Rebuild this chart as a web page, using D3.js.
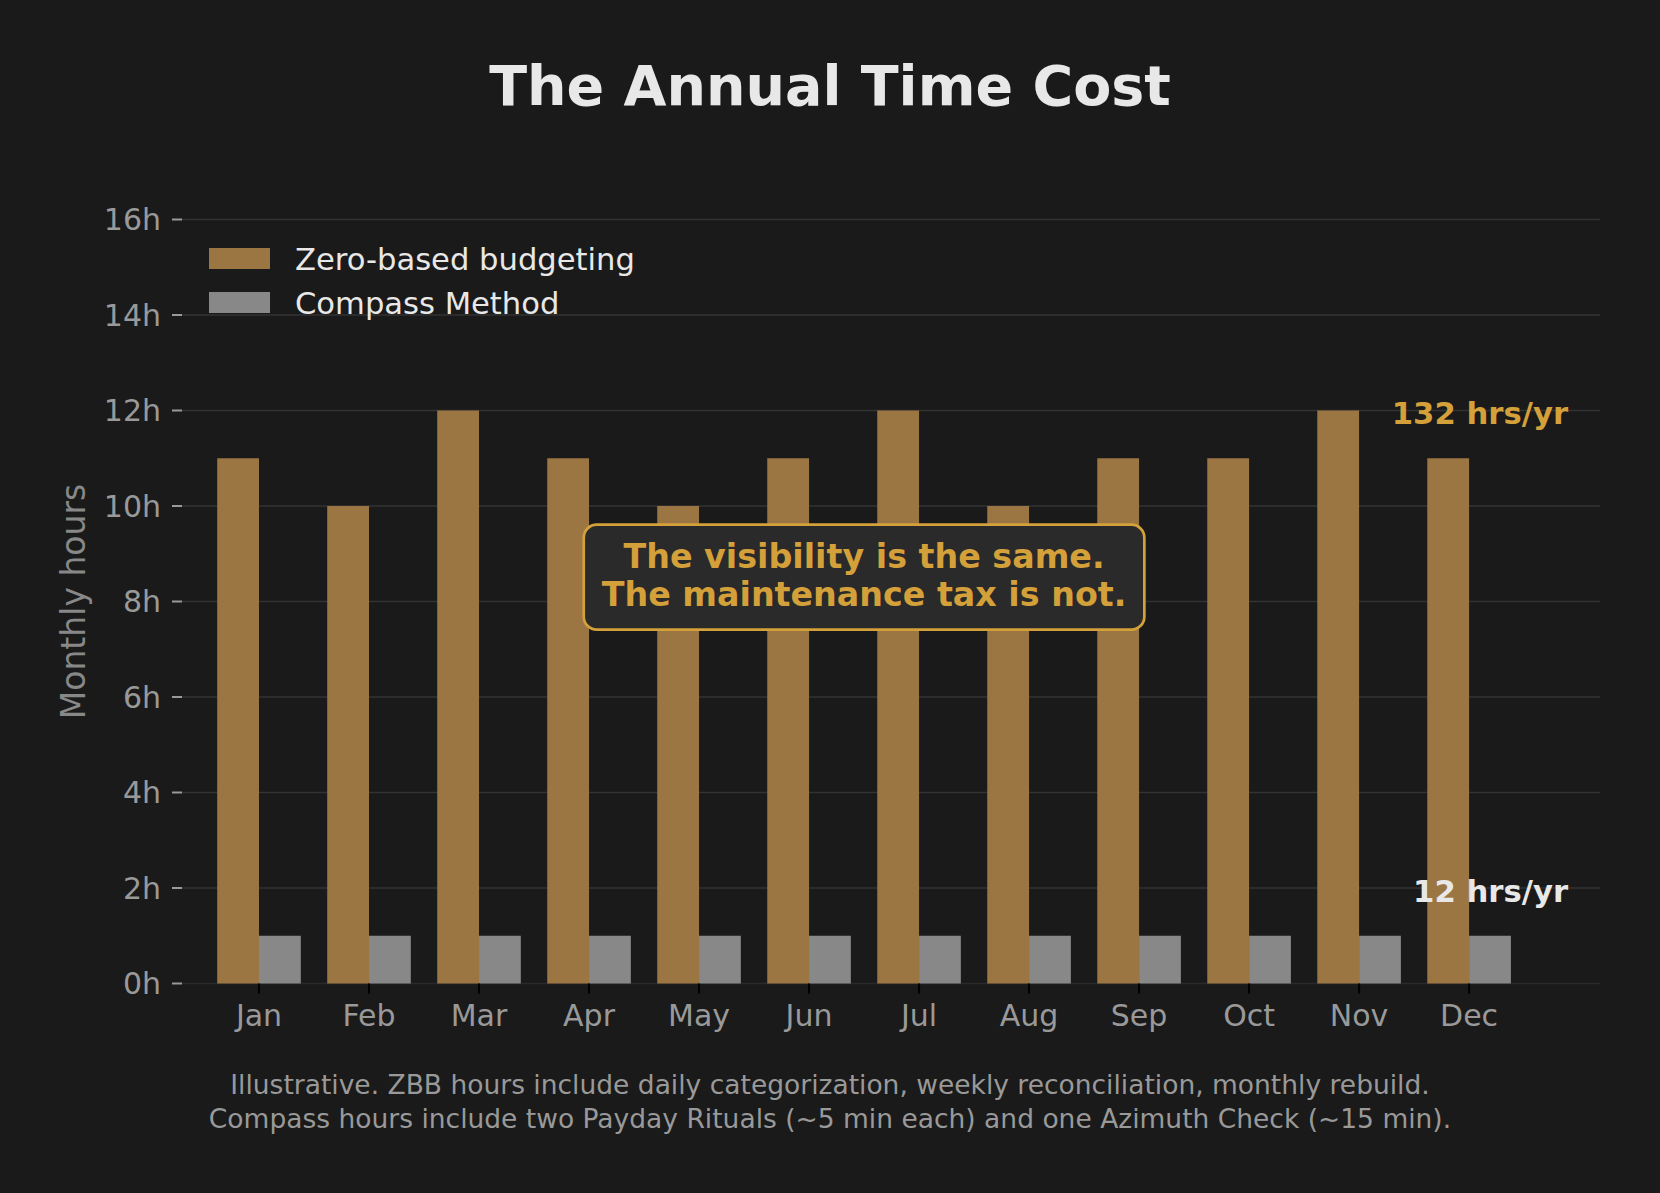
<!DOCTYPE html>
<html lang="en">
<head>
  <meta charset="UTF-8">
  <title>The Annual Time Cost</title>
  <style>
    body { margin: 0; background: #1a1a1a; overflow: hidden; }
    svg { display: block; font-family: "DejaVu Sans", sans-serif; }
    .grid line { stroke: #333; stroke-width: 1.5px; }
    .tick-label { fill: #999; font-size: 30px; }
  </style>
</head>
<body>
  <script src="https://cdn.jsdelivr.net/npm/d3@7"></script>
  <script>
    const months = ["Jan", "Feb", "Mar", "Apr", "May", "Jun", "Jul", "Aug", "Sep", "Oct", "Nov", "Dec"];
    const zbbHours = [11, 10, 12, 11, 10, 11, 12, 10, 11, 11, 12, 11];
    const compassHours = [1, 1, 1, 1, 1, 1, 1, 1, 1, 1, 1, 1];
    const yTicks = [0, 2, 4, 6, 8, 10, 12, 14, 16];
    const seriesNames = ["Zero-based budgeting", "Compass Method"];
    const footerLines = [
      "Illustrative. ZBB hours include daily categorization, weekly reconciliation, monthly rebuild.",
      "Compass hours include two Payday Rituals (~5 min each) and one Azimuth Check (~15 min)."
    ];
    const calloutLines = ["The visibility is the same.", "The maintenance tax is not."];

    const width = 1660, height = 1193;
    const gold = "#d4a03a", zbbColor = "#9c7642", compassColor = "#888888";
    const barW = 0.38;

    const svg = d3.select("body").append("svg").attr("width", width).attr("height", height);
    svg.append("rect").attr("width", width).attr("height", height).attr("fill", "#1a1a1a");

    // axes box matches matplotlib xlim(-0.7, 12.19), ylim(0, 16)
    const x = d3.scaleLinear().domain([-0.7, 12.19]).range([182, 1600]);
    const y = d3.scaleLinear().domain([0, 16]).range([983.5, 219.5]);

    // title
    svg.append("text").attr("x", 830).attr("y", 105).attr("text-anchor", "middle")
      .attr("font-size", "55.5px").attr("font-weight", "bold").attr("fill", "#e8e8e8")
      .text("The Annual Time Cost");

    // grid
    svg.append("g").attr("class", "grid").selectAll("line").data(yTicks).enter().append("line")
      .attr("x1", x.range()[0]).attr("x2", x.range()[1])
      .attr("y1", d => y(d)).attr("y2", d => y(d))
      .style("stroke", d => d === 0 ? "#2a2a2a" : null);

    // y ticks
    const yAxis = svg.append("g");
    yAxis.selectAll("line").data(yTicks).enter().append("line")
      .attr("x1", 172).attr("x2", 182).attr("y1", d => y(d)).attr("y2", d => y(d))
      .attr("stroke", "#999").attr("stroke-width", 2);
    yAxis.selectAll("text").data(yTicks).enter().append("text")
      .attr("class", "tick-label").attr("x", 161).attr("y", d => y(d)).attr("dy", "0.36em")
      .attr("text-anchor", "end").text(d => d + "h");

    svg.append("text").attr("transform", `translate(85, ${(y(0) + y(16)) / 2}) rotate(-90)`)
      .attr("text-anchor", "middle").attr("font-size", "33px").attr("fill", "#888")
      .text("Monthly hours");

    // bars
    svg.append("g").selectAll("rect").data(zbbHours).enter().append("rect")
      .attr("x", (d, i) => x(i - barW)).attr("width", x(barW) - x(0))
      .attr("y", d => y(d)).attr("height", d => y(0) - y(d)).attr("fill", zbbColor);
    svg.append("g").selectAll("rect").data(compassHours).enter().append("rect")
      .attr("x", (d, i) => x(i)).attr("width", x(barW) - x(0))
      .attr("y", d => y(d)).attr("height", d => y(0) - y(d)).attr("fill", compassColor);

    // x ticks
    const xAxis = svg.append("g");
    xAxis.selectAll("line").data(months).enter().append("line")
      .attr("x1", (d, i) => x(i)).attr("x2", (d, i) => x(i))
      .attr("y1", y(0)).attr("y2", y(0) + 10).attr("stroke", "#000").attr("stroke-width", 2);
    xAxis.selectAll("text").data(months).enter().append("text")
      .attr("class", "tick-label").attr("x", (d, i) => x(i)).attr("y", 1026)
      .attr("text-anchor", "middle").text(d => d);

    // legend
    const legend = svg.append("g").selectAll("g").data(seriesNames).enter().append("g")
      .attr("transform", (d, i) => `translate(209, ${248 + i * 44})`);
    legend.append("rect").attr("width", 61).attr("height", 21)
      .attr("fill", (d, i) => i === 0 ? zbbColor : compassColor);
    legend.append("text").attr("x", 86).attr("y", 10.5).attr("dy", "0.36em")
      .attr("font-size", "30.6px").attr("fill", "#e8e8e8").text(d => d);

    // totals
    const total = a => d3.sum(a);
    svg.append("text").attr("x", x(11.9)).attr("y", y(12)).attr("dy", "0.45em")
      .attr("text-anchor", "end").attr("font-size", "30.7px").attr("font-weight", "bold")
      .attr("fill", gold).text(`${total(zbbHours)} hrs/yr`);
    svg.append("text").attr("x", x(11.9)).attr("y", y(2)).attr("dy", "0.45em")
      .attr("text-anchor", "end").attr("font-size", "30.7px").attr("font-weight", "bold")
      .attr("fill", "#e8e8e8").text(`${total(compassHours)} hrs/yr`);

    // callout
    const cx = x(5.5), cy = y(8.5);
    const callout = svg.append("g");
    const box = callout.append("rect").attr("fill", "#2a2a2a").attr("stroke", gold)
      .attr("stroke-width", 2.7).attr("rx", 13);
    const calloutText = callout.selectAll("text").data(calloutLines).enter().append("text")
      .attr("x", cx).attr("y", (d, i) => cy - 10 + i * 38).attr("text-anchor", "middle")
      .attr("font-size", "33.3px").attr("font-weight", "bold").attr("fill", gold).text(d => d);
    const tw = d3.max(calloutText.nodes(), n => n.getComputedTextLength());
    box.attr("x", cx - tw / 2 - 18).attr("width", tw + 36)
      .attr("y", cy - 53).attr("height", 105);

    // footer
    svg.append("g").selectAll("text").data(footerLines).enter().append("text")
      .attr("x", 830).attr("y", (d, i) => 1094 + i * 34).attr("text-anchor", "middle")
      .attr("font-size", "26.5px").attr("fill", "#999").text(d => d);
  </script>
</body>
</html>
